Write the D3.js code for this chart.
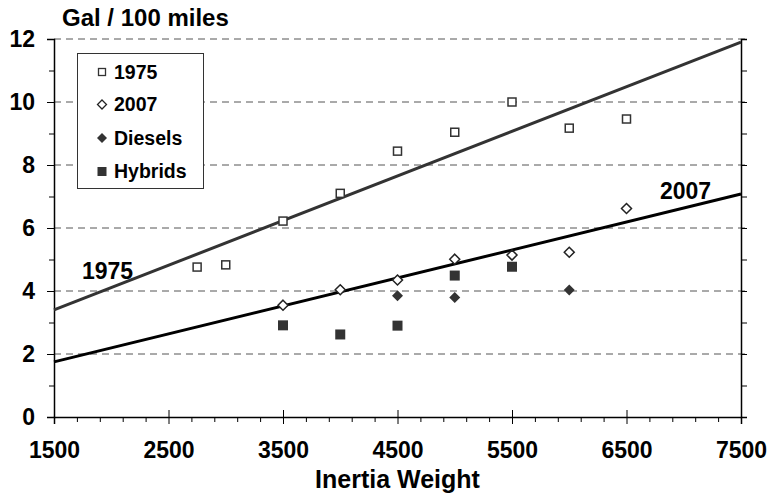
<!DOCTYPE html>
<html>
<head>
<meta charset="utf-8">
<script src="https://cdn.jsdelivr.net/npm/d3@7"></script>
<style>
body { margin: 0; background: #fff; }
text { font-family: "Liberation Sans", Arial, sans-serif; font-weight: bold; fill: #000; }
</style>
</head>
<body>
<div id="chart"></div>
<script>
// inertia weight (lb) and gal / 100 miles
var weights1975 = [2750, 3000, 3500, 4000, 4500, 5000, 5500, 6000, 6500];
var gal1975 = [4.76, 4.83, 6.22, 7.10, 8.44, 9.04, 10.0, 9.17, 9.46];
var weights2007 = [3500, 4000, 4500, 5000, 5500, 6000, 6500];
var gal2007 = [3.55, 4.04, 4.35, 5.01, 5.14, 5.23, 6.62];
var weightsDiesel = [4500, 5000, 6000];
var galDiesel = [3.85, 3.79, 4.03];
var weightsHybrid = [3500, 4000, 4500, 5000, 5500];
var galHybrid = [2.91, 2.62, 2.90, 4.49, 4.77];
// trend lines: end points at 1500 and 7500
var trendWeights = [1500, 7500];
var trend1975 = [3.40, 11.90];
var trend2007 = [1.75, 7.08];
var xTicks = [1500, 2500, 3500, 4500, 5500, 6500, 7500];
var yTicks = [0, 2, 4, 6, 8, 10, 12];
var legendLabels = ["1975", "2007", "Diesels", "Hybrids"];

var W = 771, H = 504;
var mLeft = 54, mRight = 741, mTop = 39, mBottom = 417;

var svg = d3.select("#chart").append("svg").attr("width", W).attr("height", H);

var x = d3.scaleLinear().domain([1500, 7500]).range([mLeft, mRight]);
var y = d3.scaleLinear().domain([0, 12]).range([mBottom, mTop]);

// dashed grid
svg.append("g").selectAll("line").data(yTicks.filter(function(d) { return d > 0; }))
	.enter().append("line")
	.attr("x1", mLeft).attr("x2", mRight + 6)
	.attr("y1", function(d) { return y(d); }).attr("y2", function(d) { return y(d); })
	.attr("stroke", "#555").attr("stroke-width", 1).attr("stroke-dasharray", "7,5");

// left axis, major + minor ticks
var gy = svg.append("g").attr("transform", "translate(" + mLeft + ",0)")
	.call(d3.axisLeft(y).tickValues(yTicks).tickSize(7).tickPadding(12).tickFormat(d3.format("d")));
gy.selectAll(".tick text").attr("font-size", 23);
svg.append("g").attr("transform", "translate(" + mLeft + ",0)")
	.call(d3.axisLeft(y).tickValues(d3.range(1, 12, 2)).tickSize(5).tickFormat(""))
	.select(".domain").remove();

// right axis
svg.append("g").attr("transform", "translate(" + mRight + ",0)")
	.call(d3.axisRight(y).tickValues(d3.range(0, 13, 1)).tickSize(6).tickFormat(""));

// bottom axis
var gx = svg.append("g").attr("transform", "translate(0," + mBottom + ")")
	.call(d3.axisBottom(x).tickValues(xTicks).tickSize(7).tickPadding(18).tickFormat(d3.format("d")));
gx.selectAll(".tick text").attr("font-size", 23);
gx.selectAll(".tick line").attr("y1", -7);
svg.append("g").attr("transform", "translate(0," + mBottom + ")")
	.call(d3.axisBottom(x).tickValues(d3.range(1700, 7500, 200).filter(function(d) { return (d - 1500) % 1000 !== 0; })).tickSize(5).tickFormat(""))
	.select(".domain").remove();
svg.selectAll(".domain").attr("stroke", "#000").attr("stroke-width", 1.5);
svg.selectAll(".tick line").attr("stroke", "#000");
svg.selectAll(".tick text").attr("fill", "#000");

// trend lines
var line = d3.line().x(function(d) { return x(d[0]); }).y(function(d) { return y(d[1]); });
svg.append("path").datum(d3.zip(trendWeights, trend1975)).attr("d", line)
	.attr("fill", "none").attr("stroke", "#333").attr("stroke-width", 3);
svg.append("path").datum(d3.zip(trendWeights, trend2007)).attr("d", line)
	.attr("fill", "none").attr("stroke", "#000").attr("stroke-width", 3);

// markers
var dia = function(r) { return "M0," + (-r) + "L" + r + ",0L0," + r + "L" + (-r) + ",0Z"; };

svg.append("g").selectAll("rect").data(d3.zip(weights1975, gal1975)).enter().append("rect")
	.attr("x", function(d) { return x(d[0]) - 4; }).attr("y", function(d) { return y(d[1]) - 4; })
	.attr("width", 8).attr("height", 8)
	.attr("fill", "#fff").attr("stroke", "#333").attr("stroke-width", 1.5);
svg.append("g").selectAll("path").data(d3.zip(weights2007, gal2007)).enter().append("path")
	.attr("transform", function(d) { return "translate(" + x(d[0]) + "," + y(d[1]) + ")"; })
	.attr("d", dia(5)).attr("fill", "#fff").attr("stroke", "#222").attr("stroke-width", 1.5);
svg.append("g").selectAll("path").data(d3.zip(weightsDiesel, galDiesel)).enter().append("path")
	.attr("transform", function(d) { return "translate(" + x(d[0]) + "," + y(d[1]) + ")"; })
	.attr("d", dia(5.5)).attr("fill", "#333");
svg.append("g").selectAll("rect").data(d3.zip(weightsHybrid, galHybrid)).enter().append("rect")
	.attr("x", function(d) { return x(d[0]) - 5; }).attr("y", function(d) { return y(d[1]) - 5; })
	.attr("width", 10).attr("height", 10).attr("fill", "#333");

// line labels
svg.append("text").attr("x", 82).attr("y", 279).attr("font-size", 23).text("1975");
svg.append("text").attr("x", 660).attr("y", 199).attr("font-size", 23).text("2007");

// titles
svg.append("text").attr("x", 62).attr("y", 26).attr("font-size", 24).text("Gal / 100 miles");
svg.append("text").attr("x", (mLeft + mRight) / 2).attr("y", 488).attr("text-anchor", "middle")
	.attr("font-size", 25).text("Inertia Weight");

// legend
var lg = svg.append("g");
lg.append("rect").attr("x", 77.5).attr("y", 53.5).attr("width", 126).attr("height", 135)
	.attr("fill", "#fff").attr("stroke", "#333").attr("stroke-width", 1);
var rowY = [72, 104.5, 138, 171.5];
legendLabels.forEach(function(lab, i) {
	var cy = rowY[i], cx = 102;
	if (i === 0) {
		lg.append("rect").attr("x", cx - 3.5).attr("y", cy - 3.5).attr("width", 7).attr("height", 7)
			.attr("fill", "#fff").attr("stroke", "#333").attr("stroke-width", 1.3);
	} else if (i === 1) {
		lg.append("path").attr("transform", "translate(" + cx + "," + cy + ")").attr("d", dia(4.5))
			.attr("fill", "#fff").attr("stroke", "#222").attr("stroke-width", 1.3);
	} else if (i === 2) {
		lg.append("path").attr("transform", "translate(" + cx + "," + cy + ")").attr("d", dia(5)).attr("fill", "#333");
	} else {
		lg.append("rect").attr("x", cx - 4.5).attr("y", cy - 4.5).attr("width", 9).attr("height", 9).attr("fill", "#333");
	}
	lg.append("text").attr("x", 114).attr("y", cy + 6.5).attr("font-size", 19.5).text(lab);
});
</script>
</body>
</html>
